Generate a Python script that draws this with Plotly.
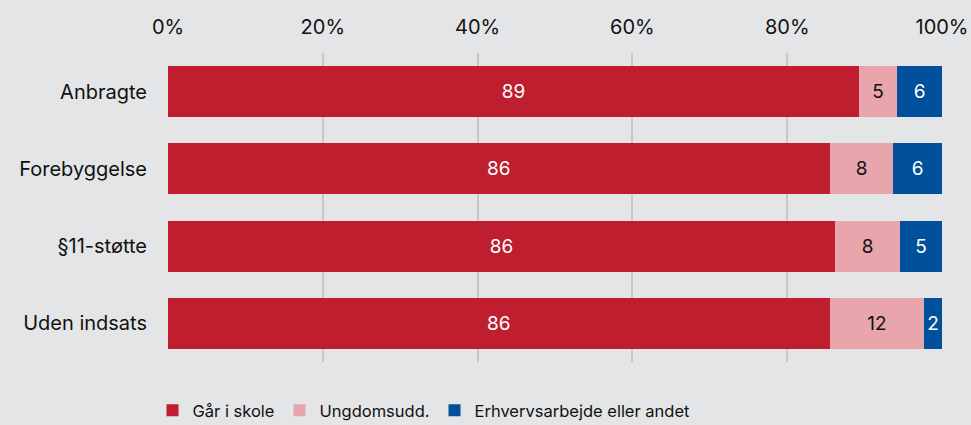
import plotly.graph_objects as go

categories = ["Anbragte", "Forebyggelse", "§11-støtte", "Uden indsats"]
skole = [89.3, 85.5, 86.2, 85.5]
ungdom = [4.9, 8.2, 8.4, 12.2]
erhverv = [5.8, 6.3, 5.4, 2.3]
tick_vals = [0, 20, 40, 60, 80, 100]
tick_text = ["0%", "20%", "40%", "60%", "80%", "100%"]

series = [
    ("Går i skole", skole, "#be1e2d", "white"),
    ("Ungdomsudd.", ungdom, "#e8a5ab", "#111111"),
    ("Erhvervsarbejde eller andet", erhverv, "#00509b", "white"),
]

fig = go.Figure()
for name, vals, color, tcolor in series:
    fig.add_trace(go.Bar(
        y=categories, x=vals, name=name, orientation="h",
        marker=dict(color=color, line=dict(width=0)),
        text=vals, texttemplate="%{x:.0f}", textposition="inside",
        insidetextanchor="middle", textangle=0,
        insidetextfont=dict(color=tcolor, size=19, family="Inter"),
    ))

fig.update_layout(
    barmode="stack",
    bargap=0.34,
    width=971, height=425,
    paper_bgcolor="#e4e5e7", plot_bgcolor="#e4e5e7",
    font=dict(family="Inter", size=20, color="#111111"),
    margin=dict(l=168, r=29, t=53, b=63, autoexpand=False),
    uniformtext=dict(minsize=17, mode="show"),
    legend=dict(orientation="h", x=-0.02, xanchor="left", y=-0.1, yanchor="top",
                font=dict(size=16.5, family="Inter"),
                itemwidth=30, traceorder="normal"),
    xaxis=dict(side="top", range=[0, 100], tickvals=tick_vals, ticktext=tick_text,
               showgrid=True, gridcolor="#c6c7c9", gridwidth=2, zeroline=False,
               fixedrange=True, ticklen=0, ticklabelstandoff=14, automargin=False),
    yaxis=dict(autorange="reversed", showgrid=False, ticks="", ticklabelstandoff=20,
               automargin=False),
)

fig.write_html("out.html", config={"displayModeBar": False},
               post_script="document.body.style.margin='0';")
